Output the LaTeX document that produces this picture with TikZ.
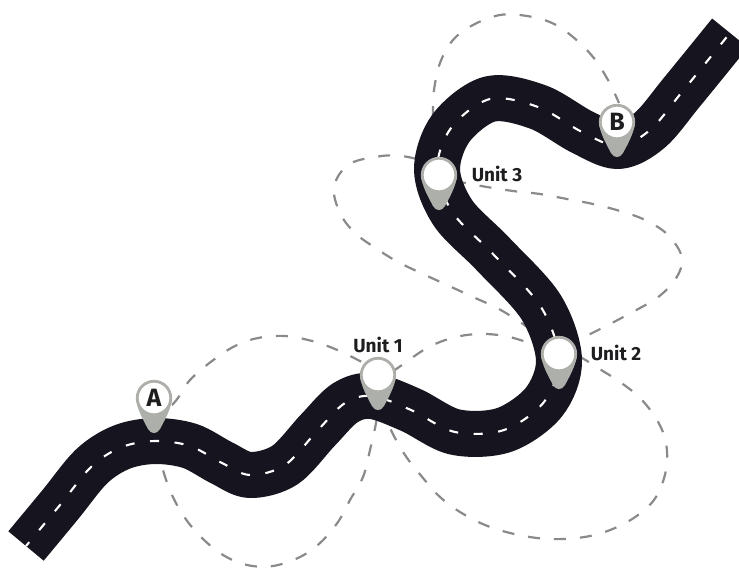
\documentclass[tikz,border=0pt]{standalone}
\usepackage{fontspec}
\setmainfont{Fira Sans}
\usetikzlibrary{calc}
\definecolor{roadC}{HTML}{15141F}
\definecolor{pinC}{HTML}{ADAFAB}
\definecolor{trailC}{HTML}{8A8A8C}
\definecolor{textC}{HTML}{1E1E20}
\tikzset{
  x=1pt,y=-1pt,
  road/.style={draw=roadC,line width=46pt,line cap=butt,line join=round},
  lane/.style={draw=white,line width=2.1pt,dash pattern=on 9pt off 15.6pt,dash phase=4pt},
  trail/.style={draw=trailC,line width=2.2pt,dash pattern=on 12pt off 14pt},
  pinhead/.style={circle,draw=pinC,fill=white,line width=2.8pt,minimum size=33.5pt,inner sep=0pt,text=textC,font=\bfseries\fontsize{25}{25}\selectfont},
  pintail/.style={fill=pinC},
  unitlabel/.style={text=textC,font=\bfseries\fontsize{19}{20}\selectfont,inner sep=0pt}
}
\newcommand{\drawpin}[4]{%
  \path[pintail] (#2-17.5,#3+4) .. controls (#2-16,#3+12) and (#2-12,#3+20) .. (#2-6,#3+31) .. controls (#2-3,#3+36.5) and (#2+3,#3+36.5) .. (#2+6,#3+31) .. controls (#2+12,#3+20) and (#2+16,#3+12) .. (#2+17.5,#3+4) -- cycle;
  \node[pinhead] (#1) at (#2,#3) {#4};
}
\begin{document}
\begin{tikzpicture}
\clip (0,0) rectangle (739,569);
\coordinate (Aup) at (172,405);
\coordinate (Adown) at (158,445);
\coordinate (Oneup) at (372,368);
\coordinate (Oneupr) at (392,372);
\coordinate (Onedown) at (378,405);
\coordinate (Onedownr) at (382,405);
\coordinate (Twoupl) at (555,350);
\coordinate (Twoupm) at (552,345);
\coordinate (Twoupr) at (566,345);
\coordinate (Twolow) at (565,350);
\coordinate (Threeup) at (440,165);
\coordinate (Threeupt) at (433,118);
\coordinate (Threeright) at (450,180);
\coordinate (Bup) at (619,103);
\draw[trail] plot[smooth,tension=0.6] coordinates {(Aup) (178,398) (190,380) (212,361) (235,346) (258,338) (285,336) (312,341) (335,349) (358,360) (Oneup)};
\draw[trail] plot[smooth,tension=0.6] coordinates {(Adown) (163,470) (172,495) (185,518) (202,538) (223,555) (247,565) (273,566) (300,557) (320,543) (338,522) (350,500) (363,477) (370,450) (376,423) (Onedown)};
\draw[trail] plot[smooth,tension=0.6] coordinates {(Oneupr) (402,365) (427,348) (452,338) (478,334) (505,336) (530,343) (Twoupl)};
\draw[trail] plot[smooth,tension=0.6] coordinates {(Onedownr) (390,428) (405,455) (423,478) (440,497) (460,512) (485,525) (510,533) (537,538) (563,539) (590,536) (615,528) (638,515) (656,497) (666,470) (666,443) (657,420) (640,398) (620,382) (598,368) (582,358) (Twolow)};
\draw[trail] plot[smooth,tension=0.6] coordinates {(Twoupr) (582,338) (610,324) (640,308) (657,298) (675,280) (682,258) (668,235) (645,220) (620,211) (593,204) (567,199) (540,194) (513,191) (487,187) (465,183) (Threeright)};
\draw[trail] plot[smooth,tension=0.6] coordinates {(Twoupm) (520,322) (497,308) (473,297) (447,285) (423,274) (398,262) (377,249) (355,233) (340,213) (334,187) (348,165) (375,157) (402,156) (Threeup)};
\draw[trail] plot[smooth,tension=0.6] coordinates {(Threeupt) (433,110) (434,90) (440,63) (453,40) (473,25) (500,15) (527,16) (552,23) (573,37) (593,57) (608,80) (Bup)};
\def\roadpath{(26,546) (60,505) (92,466) (122,447) (155,441) (190,446) (222,463) (250,475) (285,465) (318,430) (345,403) (372,396) (411,410) (455,432) (504,430) (544,402) (559,360) (541,307) (493,254) (453,213) (437,170) (451,128) (490,99) (538,107) (582,132) (618,146) (650,130) (682,92) (730,33)}
\draw[road] plot[smooth,tension=0.55] coordinates {\roadpath};
\draw[lane] plot[smooth,tension=0.55] coordinates {\roadpath};
\drawpin{A}{154}{398}{A}
\drawpin{One}{378}{375}{}
\drawpin{Two}{559}{354}{}
\drawpin{Three}{439}{175}{}
\drawpin{B}{617}{122}{B}
\node[unitlabel] (l1) at (378,345) {Unit 1};
\node[unitlabel] (l2) at (616,353) {Unit 2};
\node[unitlabel] (l3) at (497,174) {Unit 3};
\end{tikzpicture}
\end{document}
